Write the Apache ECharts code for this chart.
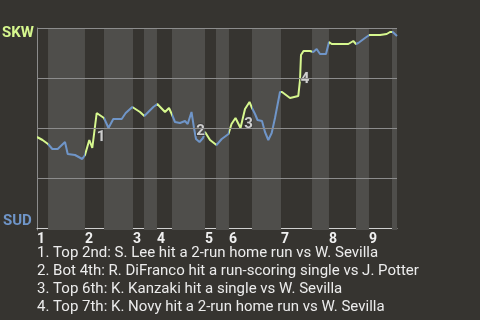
<!DOCTYPE html>
<html>
<head>
<meta charset="utf-8">
<script src="https://cdn.jsdelivr.net/npm/echarts@6/dist/echarts.min.js"></script>
<style>
html,body{margin:0;padding:0;background:#363430;}
#c{width:480px;height:320px;}
</style>
</head>
<body>
<div id="c"></div>
<script>
// Game progress (% of game) and SKW win probability
var progress = [0,1.53,3.06,4.25,5.75,7.78,8.53,10.56,12.58,13.33,14.53,15.36,16.58,18.61,19.86,21.19,23.53,24.64,26.47,28.61,29.81,30.92,32.31,33.42,35.56,36.67,37.42,38.33,39.72,41.11,41.86,42.92,43.61,44.17,45.14,46.11,46.67,48.06,49.86,51.31,53.19,54.03,55.14,56.53,57.78,59.03,59.72,60.56,61.25,62.5,63.33,64.25,65.19,66.11,67.5,68.06,70.28,72.58,73.06,73.33,74.03,75.83,76.31,76.75,77.69,78.61,80.28,81.11,81.86,86.47,87.86,88.61,89.25,91.11,92.31,95.28,97.14,98.06,98.81,100];
var winProb = [0.455,0.44,0.42,0.395,0.395,0.43,0.37,0.365,0.345,0.365,0.44,0.40,0.575,0.55,0.50,0.545,0.545,0.575,0.605,0.58,0.56,0.58,0.605,0.62,0.58,0.60,0.57,0.53,0.525,0.535,0.52,0.58,0.50,0.445,0.43,0.45,0.48,0.44,0.415,0.445,0.47,0.52,0.55,0.50,0.595,0.63,0.60,0.57,0.54,0.535,0.48,0.44,0.475,0.55,0.68,0.68,0.65,0.66,0.74,0.865,0.885,0.885,0.875,0.88,0.895,0.87,0.87,0.93,0.92,0.92,0.935,0.92,0.925,0.95,0.965,0.965,0.97,0.98,0.98,0.96];
// half-inning boundaries (top1 start, bot1 start, top2 start, ...)
var halfStarts = [0,3.06,13.33,18.61,26.67,29.72,33.33,37.5,46.67,49.72,53.33,59.72,67.78,76.39,81.11,88.61,92.22,98.61,100];
var innings = ['1','2','3','4','5','6','7','8','9'];
var gridLevels = [0.25,0.5,0.75,1];
var annLabels = ['1','2','3','4'];
var annX = [17.78,45.42,58.75,74.44];
var annY = [0.455,0.4825,0.52,0.7425];
var notes = [
  '1. Top 2nd: S. Lee hit a 2-run home run vs W. Sevilla',
  '2. Bot 4th: R. DiFranco hit a run-scoring single vs J. Potter',
  '3. Top 6th: K. Kanzaki hit a single vs W. Sevilla',
  '4. Top 7th: K. Novy hit a 2-run home run vs W. Sevilla'
];
var teamTop = 'SKW', teamBottom = 'SUD';

var GREEN = '#d6f78e', BLUE = '#6f95c8', BG = '#363430', BAND = '#4f4e4b';

var lineData = progress.map(function(x,i){return [x, winProb[i]];});
var pieces = [], bands = [], inningStarts = [];
for (var i = 0; i < halfStarts.length - 1; i++) {
  var isTop = i % 2 === 0;
  pieces.push({gte: halfStarts[i], lt: (i === halfStarts.length - 2 ? 1000 : halfStarts[i+1]), color: isTop ? GREEN : BLUE});
  if (!isTop) bands.push([{xAxis: halfStarts[i]}, {xAxis: halfStarts[i+1]}]);
  else inningStarts.push(halfStarts[i]);
}

var graphics = [
  {type:'text', left:2, top:26, style:{text:teamTop, font:'bold 15px Roboto', fill:GREEN}},
  {type:'text', left:3, top:214, style:{text:teamBottom, font:'bold 15px Roboto', fill:BLUE}}
];
notes.forEach(function(t,i){
  graphics.push({type:'text', left:37, top:246 + i*18, style:{text:t, font:'15px Roboto', fill:'#ececec'}});
});

var chart = echarts.init(document.getElementById('c'), null, {renderer:'canvas'});
chart.setOption({
  backgroundColor: BG,
  animation: false,
  grid: {left:37, right:83, top:28, bottom:90},
  xAxis: {
    type:'value', min:0, max:100,
    splitLine:{show:false},
    axisTick:{show:false},
    axisLine:{show:true, lineStyle:{color:'#cfcfcf', width:1}},
    axisLabel:{
      customValues: inningStarts,
      formatter: function(v){ var k = inningStarts.indexOf(v); return k >= 0 ? innings[k] : ''; },
      align:'left', margin:2, color:'#f0f0f0', fontFamily:'Roboto', fontWeight:'bold', fontSize:14
    }
  },
  yAxis: {
    type:'value', min:-0.01, max:1,
    splitLine:{show:false},
    axisTick:{show:false},
    axisLabel:{show:false},
    axisLine:{show:true, lineStyle:{color:'#8c8c8c', width:1}}
  },
  visualMap: {type:'piecewise', show:false, dimension:0, seriesIndex:2, pieces:pieces},
  graphic: graphics,
  series: [
    {type:'line', data:[], z:1, silent:true,
     markArea:{silent:true, itemStyle:{color:BAND}, data:bands}},
    {type:'line', data:[], z:2, silent:true,
     markLine:{silent:true, symbol:['none','none'], label:{show:false},
       lineStyle:{color:'#8c8c8c', width:1, type:'solid'},
       data: gridLevels.map(function(v){return {yAxis:v};})}},
    {type:'line', data:lineData, z:3, showSymbol:false, symbol:'none',
     lineStyle:{width:2}},
    {type:'scatter', z:4, symbolSize:0,
     data: annX.map(function(x,i){return [x, annY[i], annLabels[i]];}),
     label:{show:true, position:'inside', formatter:function(p){return p.data[2];},
       color:'#f4f4f4', fontFamily:'Roboto', fontWeight:'bold', fontSize:15,
       textBorderColor:'#3a3a3a', textBorderWidth:2}}
  ]
});
</script>
</body>
</html>
